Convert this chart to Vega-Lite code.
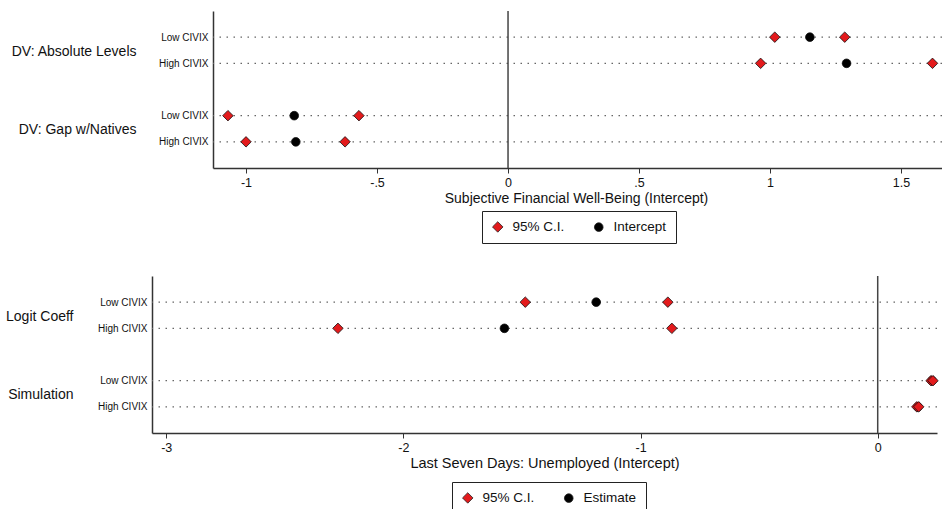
{
  "$schema": "https://vega.github.io/schema/vega-lite/v6.json",
  "padding": {"left": 5, "top": 10, "right": 0, "bottom": 0},
  "background": "white",
  "config": {
    "font": "Liberation Sans",
    "view": {"stroke": null},
    "axis": {"labelFont": "Liberation Sans", "titleFont": "Liberation Sans", "labelColor": "#111", "titleColor": "#111", "domainColor": "#333", "domainWidth": 1.5, "tickColor": "#333", "titleFontWeight": "normal"},
    "legend": {"orient": "none", "direction": "horizontal", "strokeColor": "#222", "padding": 9, "labelFontSize": 13.5, "labelColor": "#111", "columnPadding": 27, "labelOffset": 8, "symbolStrokeColor": "#222", "symbolStrokeWidth": 0.8, "title": null}
  },
  "datasets": {
    "top": [
      {"group": "DV: Absolute Levels", "row": "Low CIVIX", "key": "DV: Absolute Levels|Low CIVIX", "type": "Intercept", "value": 1.152},
      {"group": "DV: Absolute Levels", "row": "Low CIVIX", "key": "DV: Absolute Levels|Low CIVIX", "type": "95% C.I.", "value": 1.018},
      {"group": "DV: Absolute Levels", "row": "Low CIVIX", "key": "DV: Absolute Levels|Low CIVIX", "type": "95% C.I.", "value": 1.285},
      {"group": "DV: Absolute Levels", "row": "High CIVIX", "key": "DV: Absolute Levels|High CIVIX", "type": "Intercept", "value": 1.292},
      {"group": "DV: Absolute Levels", "row": "High CIVIX", "key": "DV: Absolute Levels|High CIVIX", "type": "95% C.I.", "value": 0.964},
      {"group": "DV: Absolute Levels", "row": "High CIVIX", "key": "DV: Absolute Levels|High CIVIX", "type": "95% C.I.", "value": 1.62},
      {"group": "DV: Gap w/Natives", "row": "Low CIVIX", "key": "DV: Gap w/Natives|Low CIVIX", "type": "Intercept", "value": -0.816},
      {"group": "DV: Gap w/Natives", "row": "Low CIVIX", "key": "DV: Gap w/Natives|Low CIVIX", "type": "95% C.I.", "value": -1.069},
      {"group": "DV: Gap w/Natives", "row": "Low CIVIX", "key": "DV: Gap w/Natives|Low CIVIX", "type": "95% C.I.", "value": -0.569},
      {"group": "DV: Gap w/Natives", "row": "High CIVIX", "key": "DV: Gap w/Natives|High CIVIX", "type": "Intercept", "value": -0.81},
      {"group": "DV: Gap w/Natives", "row": "High CIVIX", "key": "DV: Gap w/Natives|High CIVIX", "type": "95% C.I.", "value": -1.0},
      {"group": "DV: Gap w/Natives", "row": "High CIVIX", "key": "DV: Gap w/Natives|High CIVIX", "type": "95% C.I.", "value": -0.622}
    ],
    "bottom": [
      {"group": "Logit Coeff", "row": "Low CIVIX", "key": "Logit Coeff|Low CIVIX", "type": "Estimate", "value": -1.187},
      {"group": "Logit Coeff", "row": "Low CIVIX", "key": "Logit Coeff|Low CIVIX", "type": "95% C.I.", "value": -1.486},
      {"group": "Logit Coeff", "row": "Low CIVIX", "key": "Logit Coeff|Low CIVIX", "type": "95% C.I.", "value": -0.885},
      {"group": "Logit Coeff", "row": "High CIVIX", "key": "Logit Coeff|High CIVIX", "type": "Estimate", "value": -1.574},
      {"group": "Logit Coeff", "row": "High CIVIX", "key": "Logit Coeff|High CIVIX", "type": "95% C.I.", "value": -2.276},
      {"group": "Logit Coeff", "row": "High CIVIX", "key": "Logit Coeff|High CIVIX", "type": "95% C.I.", "value": -0.868},
      {"group": "Simulation", "row": "Low CIVIX", "key": "Simulation|Low CIVIX", "type": "Estimate", "value": 0.229},
      {"group": "Simulation", "row": "Low CIVIX", "key": "Simulation|Low CIVIX", "type": "95% C.I.", "value": 0.225},
      {"group": "Simulation", "row": "Low CIVIX", "key": "Simulation|Low CIVIX", "type": "95% C.I.", "value": 0.233},
      {"group": "Simulation", "row": "High CIVIX", "key": "Simulation|High CIVIX", "type": "Estimate", "value": 0.169},
      {"group": "Simulation", "row": "High CIVIX", "key": "Simulation|High CIVIX", "type": "95% C.I.", "value": 0.165},
      {"group": "Simulation", "row": "High CIVIX", "key": "Simulation|High CIVIX", "type": "95% C.I.", "value": 0.173}
    ]
  },
  "vconcat": [
    {
      "data": {"name": "top"},
      "spacing": 22,
      "hconcat": [
        {
          "width": 130,
          "height": 157,
          "transform": [{"filter": "datum.type == 'Intercept'"}],
          "mark": {"type": "rule", "strokeOpacity": 0},
          "encoding": {
            "y": {"field": "key", "type": "nominal", "scale": {"type": "point", "padding": 1.22, "domain": ["DV: Absolute Levels|Low CIVIX", "DV: Absolute Levels|High CIVIX", "gap", "DV: Gap w/Natives|Low CIVIX", "DV: Gap w/Natives|High CIVIX"]},
              "axis": {"orient": "right", "title": null, "domain": false, "ticks": false, "tickSize": 0, "grid": false, "labelFontSize": 14, "labelPadding": 0, "labelLimit": 0, "labelAlign": "right", "labelOffset": -12, "values": ["DV: Absolute Levels|High CIVIX", "DV: Gap w/Natives|High CIVIX"], "labelExpr": "split(datum.value, '|')[0]"}}
          }
        },
        {
          "width": 785,
          "height": 157,
          "layer": [
            {
              "transform": [{"filter": "datum.type == 'Intercept'"}],
              "mark": {"type": "rule", "color": "#666", "strokeWidth": 1.4, "strokeDash": [1.5, 5.5]},
              "encoding": {
                "y": {"field": "key", "type": "nominal", "scale": {"type": "point", "padding": 1.22, "domain": ["DV: Absolute Levels|Low CIVIX", "DV: Absolute Levels|High CIVIX", "gap", "DV: Gap w/Natives|Low CIVIX", "DV: Gap w/Natives|High CIVIX"]},
                  "axis": {"orient": "left", "title": null, "ticks": false, "grid": false, "labelFontSize": 10, "labelPadding": 5, "values": ["DV: Absolute Levels|Low CIVIX", "DV: Absolute Levels|High CIVIX", "DV: Gap w/Natives|Low CIVIX", "DV: Gap w/Natives|High CIVIX"], "labelExpr": "split(datum.value, '|')[1]"}}
              }
            },
            {
              "transform": [{"filter": "datum.type == 'Intercept' && datum.key == 'DV: Absolute Levels|Low CIVIX'"}],
              "mark": {"type": "rule", "color": "#444", "strokeWidth": 1.5},
              "encoding": {"x": {"datum": 0, "type": "quantitative", "scale": {"domain": [-1.126, 1.87], "nice": false, "zero": false}}}
            },
            {
              "mark": {"type": "point", "filled": true, "stroke": "#111", "strokeWidth": 0.8, "opacity": 1},
              "encoding": {
                "x": {"field": "value", "type": "quantitative", "scale": {"domain": [-1.126, 1.87], "nice": false, "zero": false},
                  "axis": {"title": "Subjective Financial Well-Being (Intercept)", "titleFontSize": 14, "titlePadding": 3, "titleX": 363, "titleAnchor": "start", "titleAlign": "center", "values": [-1, -0.5, 0, 0.5, 1, 1.5], "labelExpr": "(datum.value < 0 ? '-' : '') + replace(toString(abs(datum.value)), '0.', '.')", "labelFontSize": 12.5, "tickSize": 5, "grid": false, "labelPadding": 3}},
                "y": {"field": "key", "type": "nominal"},
                "shape": {"field": "type", "type": "nominal", "scale": {"domain": ["95% C.I.", "Intercept"], "range": ["diamond", "circle"]}, "legend": {"legendX": 476, "legendY": 200}},
                "color": {"field": "type", "type": "nominal", "scale": {"domain": ["95% C.I.", "Intercept"], "range": ["#e31a1c", "#000000"]}, "legend": {"legendX": 476, "legendY": 200}},
                "size": {"field": "type", "type": "nominal", "scale": {"domain": ["95% C.I.", "Intercept"], "range": [110, 75]}, "legend": {"legendX": 476, "legendY": 200}}
              }
            }
          ]
        }
      ]
    },
    {
      "data": {"name": "bottom"},
      "spacing": 24,
      "hconcat": [
        {
          "width": 67,
          "height": 157,
          "transform": [{"filter": "datum.type == 'Estimate'"}],
          "mark": {"type": "rule", "strokeOpacity": 0},
          "encoding": {
            "y": {"field": "key", "type": "nominal", "scale": {"type": "point", "padding": 1.22, "domain": ["Logit Coeff|Low CIVIX", "Logit Coeff|High CIVIX", "gap", "Simulation|Low CIVIX", "Simulation|High CIVIX"]},
              "axis": {"orient": "right", "title": null, "domain": false, "ticks": false, "tickSize": 0, "grid": false, "labelFontSize": 14, "labelPadding": 0, "labelLimit": 0, "labelAlign": "right", "labelOffset": -12, "values": ["Logit Coeff|High CIVIX", "Simulation|High CIVIX"], "labelExpr": "split(datum.value, '|')[0]"}}
          }
        },
        {
          "width": 785,
          "height": 157,
          "layer": [
            {
              "transform": [{"filter": "datum.type == 'Estimate'"}],
              "mark": {"type": "rule", "color": "#666", "strokeWidth": 1.4, "strokeDash": [1.5, 5.5]},
              "encoding": {
                "y": {"field": "key", "type": "nominal", "scale": {"type": "point", "padding": 1.22, "domain": ["Logit Coeff|Low CIVIX", "Logit Coeff|High CIVIX", "gap", "Simulation|Low CIVIX", "Simulation|High CIVIX"]},
                  "axis": {"orient": "left", "title": null, "ticks": false, "grid": false, "labelFontSize": 10, "labelPadding": 5, "values": ["Logit Coeff|Low CIVIX", "Logit Coeff|High CIVIX", "Simulation|Low CIVIX", "Simulation|High CIVIX"], "labelExpr": "split(datum.value, '|')[1]"}}
              }
            },
            {
              "transform": [{"filter": "datum.type == 'Estimate' && datum.key == 'Logit Coeff|Low CIVIX'"}],
              "mark": {"type": "rule", "color": "#444", "strokeWidth": 1.5},
              "encoding": {"x": {"datum": 0, "type": "quantitative", "scale": {"domain": [-3.06, 0.25], "nice": false, "zero": false}}}
            },
            {
              "mark": {"type": "point", "filled": true, "stroke": "#111", "strokeWidth": 0.8, "opacity": 1},
              "encoding": {
                "x": {"field": "value", "type": "quantitative", "scale": {"domain": [-3.06, 0.25], "nice": false, "zero": false},
                  "axis": {"title": "Last Seven Days: Unemployed (Intercept)", "titleFontSize": 14.5, "titlePadding": 3, "values": [-3, -2, -1, 0], "labelExpr": "(datum.value < 0 ? '-' : '') + toString(abs(datum.value))", "labelFontSize": 12.5, "tickSize": 5, "grid": false, "labelPadding": 3}},
                "y": {"field": "key", "type": "nominal"},
                "shape": {"field": "type", "type": "nominal", "scale": {"domain": ["95% C.I.", "Estimate"], "range": ["diamond", "circle"]}, "legend": {"legendX": 446, "legendY": 206}},
                "color": {"field": "type", "type": "nominal", "scale": {"domain": ["95% C.I.", "Estimate"], "range": ["#e31a1c", "#000000"]}, "legend": {"legendX": 446, "legendY": 206}},
                "size": {"field": "type", "type": "nominal", "scale": {"domain": ["95% C.I.", "Estimate"], "range": [110, 75]}, "legend": {"legendX": 446, "legendY": 206}}
              }
            }
          ]
        }
      ],
      "resolve": {"scale": {"y": "independent"}}
    }
  ],
  "spacing": 31,
  "resolve": {
    "scale": {"x": "independent", "y": "independent", "color": "independent", "shape": "independent", "size": "independent"},
    "legend": {"color": "independent", "shape": "independent", "size": "independent"}
  }
}
